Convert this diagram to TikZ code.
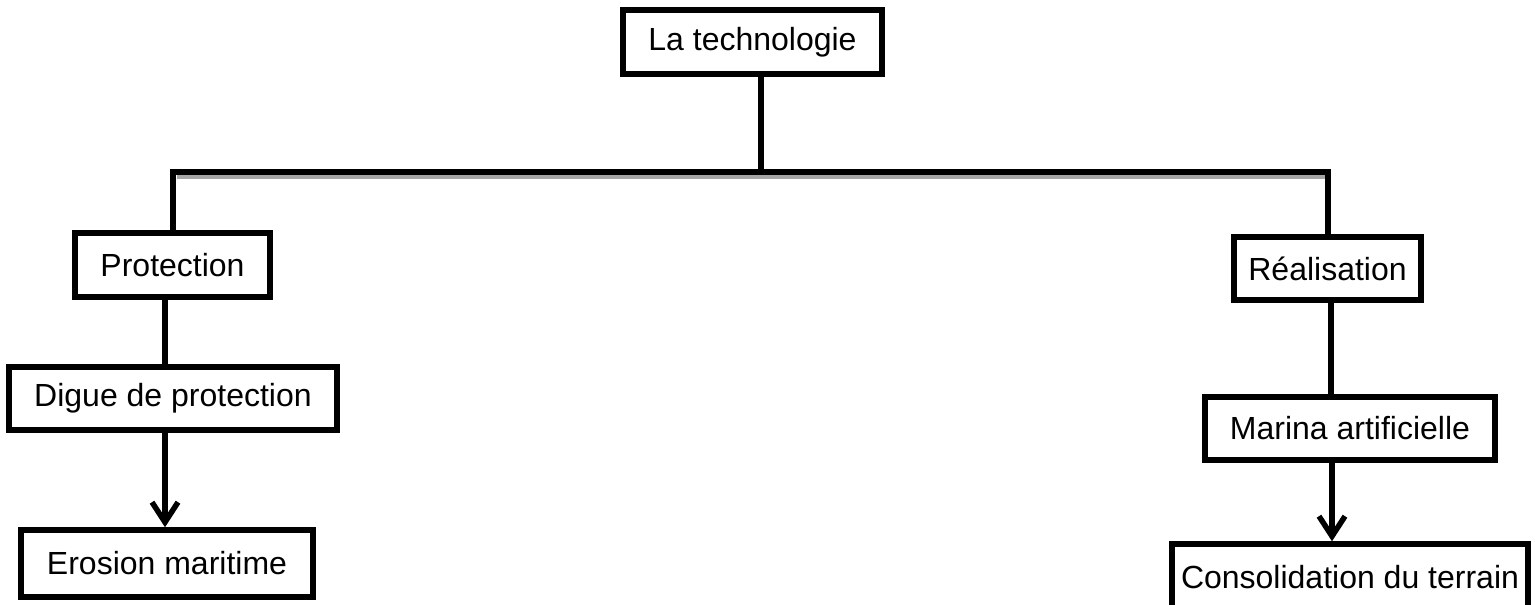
\documentclass[tikz,border=0pt]{standalone}
\usepackage{fontspec}
\setmainfont{Liberation Sans}
\usetikzlibrary{arrows.meta}
\begin{document}
\begin{tikzpicture}[x=1pt,y=-1pt,
  box/.style={draw=black,line width=5.5pt,fill=white,inner sep=0pt,
    font=\fontsize{32}{37}\selectfont,anchor=center},
  conn/.style={draw=black,line width=5.5pt},
  arr/.style={conn,-{Straight Barb[length=20pt,width=26pt,line width=5.5pt]}}]
\useasboundingbox (0,0) rectangle (1535,605);
\fill[white] (0,0) rectangle (1535,605);
% nodes
\node[box,minimum width=259pt,minimum height=64pt] (tech) at (752.5,42) {La technologie};
\node[box,minimum width=195pt,minimum height=64pt] (prot) at (172.5,265) {Protection};
\node[box,minimum width=187pt,minimum height=63pt] (real) at (1327.5,268.5) {Réalisation};
\node[box,minimum width=328pt,minimum height=63pt] (digue) at (173,398.5) {Digue de protection};
\node[box,minimum width=292pt,minimum height=67pt] (eros) at (167,563.5) {Erosion maritime};
\node[box,minimum width=290pt,minimum height=63pt] (marina) at (1350,428.5) {Marina artificielle};
\node[box,minimum width=356pt,minimum height=66pt] (consol) at (1350,577) {Consolidation du terrain};
% helper coordinates
\coordinate (j) at (761,172);
\coordinate (bl) at (173,172);
\coordinate (br) at (1328,172);
\coordinate (lx) at (165,0);
\coordinate (rx) at (1331,0);
% connectors
\draw[conn] (tech.south -| j) -- (j);
\draw[gray!70,line width=4pt] ([xshift=4pt,yshift=-5pt]bl) -- ([yshift=-5pt]br);
\draw[conn,line join=miter] (prot.north -| bl) -- (bl) -- (br) -- (real.north -| br);
\draw[conn] (prot.south -| lx) -- (digue.north -| lx);
\draw[arr] (digue.south -| lx) -- (eros.north -| lx);
\draw[conn] (real.south -| rx) -- (marina.north -| rx);
\draw[arr] ([xshift=1pt]marina.south -| rx) -- ([xshift=1pt]consol.north -| rx);
\end{tikzpicture}
\end{document}
